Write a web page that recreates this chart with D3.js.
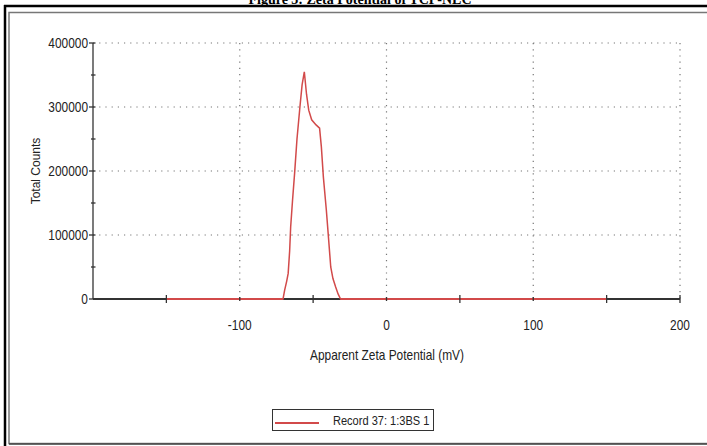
<!DOCTYPE html>
<html><head><meta charset="utf-8">
<script src="https://cdn.jsdelivr.net/npm/d3@7"></script>
<style>body{margin:0;background:#fff}svg{display:block}</style>
</head><body>
<script>
// Data
const zeta = [-150,-100,-80,-72,-70.5,-69.4,-68,-67,-66,-65.3,-64,-62.6,-61,-59,-57.5,-56,-54.5,-53,-51,-48,-45.6,-44.4,-43,-41,-39.5,-38,-36.5,-34.7,-33,-31.3,-20,0,50,100,150];
const counts = [0,0,0,0,0,14000,28000,40000,75000,113000,155000,197000,250000,300000,335000,355000,320000,295000,280000,272000,267000,238000,190000,139000,95000,50000,32000,19000,8000,0,0,0,0,0,0];
const xTicks = [-100,0,100,200];
const yTicks = [0,100000,200000,300000,400000];
const seriesName = "Record 37: 1:3BS 1";
const titleText = "Figure 3: Zeta Potential of TCP-NLC";

const W=707,H=446;
const svg=d3.select("body").append("svg").attr("width",W).attr("height",H);
const sans = "'Liberation Sans',Arial,sans-serif";
const SX = 0.85;

function ntext(px,py,anchor,str,size){
  const gg=svg.append("g").attr("transform",`translate(${px},${py}) scale(${SX},1)`);
  gg.append("text").attr("x",0).attr("y",0).attr("text-anchor",anchor)
    .attr("font-family",sans).attr("font-size",size||14).attr("fill","#222").text(str);
  return gg;
}

// title (clipped at top, as in the reference)
svg.append("text").attr("x",360).attr("y",3.5).attr("text-anchor","middle")
  .attr("font-family","'Liberation Serif','Times New Roman',serif").attr("font-weight","bold")
  .attr("font-size",14).text(titleText);

// frames
svg.append("line").attr("x1",4).attr("x2",W).attr("y1",6).attr("y2",6).attr("stroke","#000").attr("stroke-width",2.5);
svg.append("line").attr("x1",5).attr("x2",5).attr("y1",5).attr("y2",H).attr("stroke","#000").attr("stroke-width",2.5);
svg.append("rect").attr("x",9).attr("y",12.5).attr("width",W).attr("height",431)
  .attr("fill","none").attr("stroke","#777").attr("stroke-width",1.5);
svg.append("line").attr("x1",9).attr("x2",W).attr("y1",444).attr("y2",444).attr("stroke","#444").attr("stroke-width",1.5);

const x=d3.scaleLinear().domain([-200,200]).range([93,680]);
const y=d3.scaleLinear().domain([0,400000]).range([299,43]);

// grid
const g=svg.append("g");
g.selectAll(".hg").data(yTicks.filter(d=>d>0)).join("line")
  .attr("x1",x(-200)).attr("x2",x(200)).attr("y1",d=>y(d)).attr("y2",d=>y(d))
  .attr("stroke","#777").attr("stroke-width",1.2).attr("stroke-dasharray","1.2,5");
g.selectAll(".vg").data(xTicks).join("line")
  .attr("x1",d=>x(d)).attr("x2",d=>x(d)).attr("y1",y(400000)).attr("y2",y(0))
  .attr("stroke","#777").attr("stroke-width",1.2).attr("stroke-dasharray","1.2,5");

// axes
const axCol="#333";
svg.append("line").attr("x1",x(-200)).attr("x2",x(-200)).attr("y1",y(400000)).attr("y2",y(0)).attr("stroke",axCol).attr("stroke-width",1.3);
const yMinor=d3.range(0,400001,50000);
svg.selectAll(".ytk").data(yMinor).join("line")
  .attr("x1",d=>d%100000===0?x(-200)-4:x(-200)-2).attr("x2",x(-200)+2.5)
  .attr("y1",d=>y(d)).attr("y2",d=>y(d)).attr("stroke",axCol).attr("stroke-width",1.3);
yTicks.forEach(d=>ntext(x(-200)-5,y(d)+5,"end",String(d)));

// x axis base line (black)
svg.append("line").attr("x1",x(-200)).attr("x2",x(200)).attr("y1",y(0)).attr("y2",y(0)).attr("stroke",axCol).attr("stroke-width",2);

// red series
svg.append("path").datum(zeta.map((v,i)=>[v,counts[i]]))
  .attr("d",d3.line().x(d=>x(d[0])).y(d=>y(d[1])))
  .attr("fill","none").attr("stroke","#d24a4a").attr("stroke-width",1.5);
svg.append("line").attr("x1",x(-150)).attr("x2",x(-70.5)).attr("y1",y(0)).attr("y2",y(0)).attr("stroke","#d24a4a").attr("stroke-width",2);
svg.append("line").attr("x1",x(-31.3)).attr("x2",x(150)).attr("y1",y(0)).attr("y2",y(0)).attr("stroke","#d24a4a").attr("stroke-width",2);

svg.selectAll(".xtk").data(d3.range(-150,201,50)).join("line")
  .attr("x1",d=>x(d)).attr("x2",d=>x(d))
  .attr("y1",d=>d%100===0&&d!==200?y(0)-2:y(0)-4).attr("y2",d=>d%100===0&&d!==200?y(0)+2:y(0)+4)
  .attr("stroke",axCol).attr("stroke-width",1.3);
xTicks.forEach(d=>ntext(x(d),330,"middle",String(d)));

// axis titles
ntext(387,360,"middle","Apparent Zeta Potential (mV)");
svg.append("text").attr("transform","translate(40,171) rotate(-90)").attr("text-anchor","middle")
  .attr("font-family",sans).attr("font-size",12).attr("fill","#222").text("Total Counts");

// legend
svg.append("rect").attr("x",272.5).attr("y",409.5).attr("width",161).attr("height",21)
  .attr("fill","#fff").attr("stroke","#333").attr("stroke-width",1);
svg.append("line").attr("x1",275).attr("x2",319).attr("y1",423).attr("y2",423).attr("stroke","#d24a4a").attr("stroke-width",2);
ntext(333,425,"start",seriesName,13);
</script>
</body></html>
